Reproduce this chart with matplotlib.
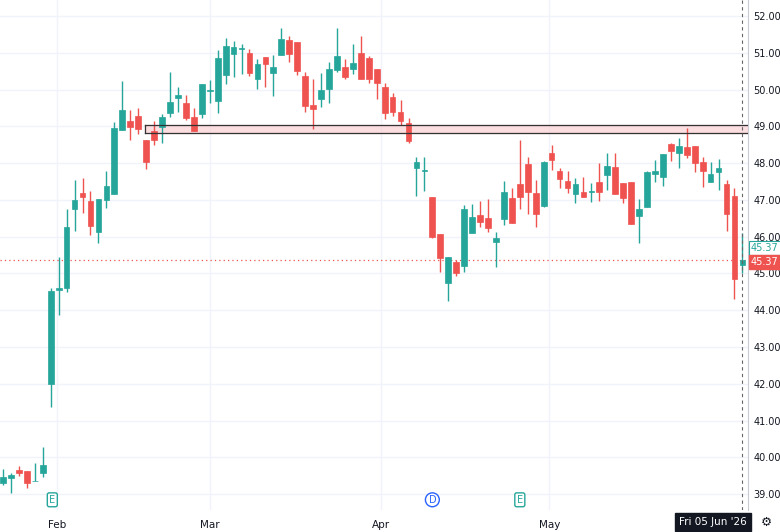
import matplotlib
matplotlib.use("Agg")
import matplotlib.pyplot as plt
import numpy as np

# --- daily OHLC, late Jan -> 05 Jun '26 ---
opens = [39.30, 39.45, 39.65, 39.62, 39.35, 39.57, 42.00, 44.55, 44.60, 46.75,
         47.19, 46.97, 46.13, 47.00, 47.16, 48.90, 49.14, 49.28, 48.63, 48.87,
         48.98, 49.36, 49.77, 49.63, 49.25, 49.33, 49.96, 49.69, 50.40, 50.97,
         51.10, 51.00, 50.29, 50.88, 50.45, 50.94, 51.35, 51.29, 50.37, 49.58,
         49.74, 50.01, 50.53, 50.61, 50.56, 51.00, 50.86, 50.56, 50.07, 49.80,
         49.39, 49.09, 47.87, 47.78, 47.08, 46.07, 44.74, 45.31, 45.20, 46.10,
         46.59, 46.51, 45.85, 46.48, 47.05, 47.43, 47.98, 47.19, 46.83, 48.27,
         47.78, 47.51, 47.16, 47.21, 47.21, 47.48, 47.68, 47.89, 47.46, 47.48,
         46.56, 46.80, 47.70, 47.62, 48.52, 48.27, 48.44, 48.46, 48.03, 47.48,
         47.76, 47.43, 47.10, 45.23]
closes = [39.46, 39.52, 39.57, 39.30, 39.35, 39.79, 44.52, 44.60, 46.26, 47.00,
          47.08, 46.29, 47.02, 47.38, 48.95, 49.44, 48.98, 48.92, 48.03, 48.63,
          49.25, 49.66, 49.85, 49.23, 48.87, 50.15, 49.97, 50.86, 51.18, 51.16,
          51.11, 50.45, 50.70, 50.70, 50.61, 51.37, 50.97, 50.50, 49.55, 49.47,
          49.99, 50.56, 50.91, 50.34, 50.72, 50.29, 50.29, 50.18, 49.36, 49.39,
          49.14, 48.60, 48.03, 47.78, 45.99, 45.42, 45.45, 45.01, 46.75, 46.53,
          46.40, 46.23, 45.96, 47.21, 46.37, 47.08, 47.21, 46.61, 48.03, 48.08,
          47.57, 47.32, 47.43, 47.08, 47.22, 47.21, 47.92, 47.16, 47.05, 46.34,
          46.75, 47.75, 47.78, 48.25, 48.33, 48.46, 48.22, 48.00, 47.78, 47.70,
          47.87, 46.61, 44.85, 45.37]
highs = [39.68, 39.57, 39.76, 39.62, 39.84, 40.28, 44.60, 45.45, 46.75, 47.54,
         47.59, 47.24, 47.02, 47.78, 49.12, 50.23, 49.44, 49.50, 48.63, 49.14,
         49.33, 50.48, 50.07, 49.85, 49.50, 50.15, 50.26, 51.08, 51.40, 51.32,
         51.24, 51.10, 50.83, 50.88, 50.94, 51.67, 51.46, 51.29, 50.48, 50.29,
         50.45, 50.75, 51.67, 50.83, 51.24, 51.46, 50.91, 50.56, 50.18, 49.91,
         49.72, 49.23, 48.17, 48.17, 47.08, 46.07, 45.45, 45.36, 46.86, 46.89,
         46.97, 47.02, 46.13, 47.51, 47.32, 48.63, 48.17, 47.54, 48.06, 48.49,
         47.87, 47.78, 47.59, 47.62, 47.46, 48.00, 48.27, 48.27, 47.46, 47.48,
         47.02, 47.78, 48.08, 48.25, 48.55, 48.68, 48.95, 48.46, 48.17, 48.03,
         48.11, 47.54, 47.32, 46.10]
lows = [39.25, 39.03, 39.50, 39.16, 39.35, 39.46, 41.37, 43.87, 44.50, 46.15,
        46.64, 46.04, 45.83, 46.78, 47.16, 48.90, 48.63, 48.79, 47.84, 48.49,
        48.55, 49.25, 49.39, 49.17, 48.87, 49.22, 49.63, 49.36, 50.15, 50.34,
        50.42, 50.37, 50.01, 50.07, 49.82, 50.94, 50.75, 50.40, 49.39, 48.93,
        49.52, 49.63, 50.48, 50.29, 50.42, 50.29, 50.18, 49.74, 49.20, 49.28,
        49.03, 48.55, 47.10, 47.24, 45.96, 45.04, 44.25, 44.93, 45.04, 46.10,
        46.26, 46.13, 45.17, 46.32, 46.37, 46.75, 46.61, 46.26, 46.81, 47.81,
        47.32, 47.19, 46.91, 47.08, 46.94, 46.97, 47.27, 47.16, 46.91, 46.34,
        45.83, 46.80, 47.48, 47.38, 48.06, 47.87, 48.14, 47.76, 47.35, 47.48,
        47.27, 46.15, 44.30, 45.01]
month_labels = ["Feb", "Mar", "Apr", "May"]
month_pos = [6.8, 26.0, 47.5, 68.7]
price_ticks = list(range(39, 53))
last_price = 45.37
zone_low, zone_high, zone_start = 48.82, 49.05, 17.9

GREEN = "#26a69a"
RED = "#ef5350"
GRID = "#f0f3fa"
TXT = "#131722"

fig = plt.figure(figsize=(7.8, 5.32), dpi=100)
ax = fig.add_axes([0, 22 / 532, 748 / 780, 510 / 532])

x = np.arange(len(opens))
o, c, h, l = map(np.array, (opens, closes, highs, lows))
up = c >= o
colors = np.where(up, GREEN, RED)

ax.vlines(x, l, h, colors=colors, linewidth=1, zorder=3)
bottom = np.minimum(o, c)
height = np.maximum(np.abs(c - o), 0.02)
ax.bar(x, height, bottom=bottom, width=0.72, color=colors, edgecolor=colors,
       linewidth=0.5, zorder=4)

ax.set_xlim(-0.38, 93.7)
ax.set_ylim(38.57, 52.435)

# grid
for p in price_ticks:
    ax.axhline(p, color=GRID, linewidth=1, zorder=0)
for m in month_pos:
    ax.axvline(m, color=GRID, linewidth=1, zorder=0)

# resistance zone
ax.fill_between([zone_start, 100], zone_low, zone_high, color="#f8c9cc", alpha=0.6, zorder=2)
ax.plot([zone_start, 100], [zone_high, zone_high], color="#333333", lw=0.9, zorder=5)
ax.plot([zone_start, 100], [zone_low, zone_low], color="#333333", lw=0.9, zorder=5)
ax.plot([zone_start, zone_start], [zone_low, zone_high], color="#333333", lw=0.9, zorder=5)

# last price line + crosshair
ax.axhline(last_price, color=RED, linestyle=(0, (1, 2.5)), linewidth=0.9, zorder=1)
ax.axvline(x[-1], color="#666666", linestyle=(0, (3, 3)), linewidth=0.8, zorder=6)

ax.yaxis.tick_right()
ax.set_yticks(price_ticks)
ax.set_yticklabels([f"{p:.2f}" for p in price_ticks])
ax.tick_params(axis="y", length=0, labelsize=7, labelcolor=TXT, pad=4)
ax.set_xticks(month_pos)
ax.set_xticklabels(month_labels)
ax.tick_params(axis="x", length=0, labelsize=7.5, labelcolor=TXT, pad=7)
for s in ["top", "left", "bottom"]:
    ax.spines[s].set_visible(False)
ax.spines["right"].set_color("#c8cbd3")

# price labels on axis
ax.text(1.004, 45.69, "45.37", transform=ax.get_yaxis_transform(), fontsize=7,
        color=GREEN, va="center", ha="left", zorder=10,
        bbox=dict(boxstyle="square,pad=0.2", fc="white", ec=GREEN, lw=0.8))
ax.text(1.004, 45.31, "45.37", transform=ax.get_yaxis_transform(), fontsize=7,
        color="white", va="center", ha="left", zorder=10,
        bbox=dict(boxstyle="square,pad=0.2", fc=RED, ec=RED))

# event markers
for xe, lab, col in [(6.2, "E", GREEN), (65.0, "E", GREEN), (54.0, "D", "#2962ff")]:
    style = "circle,pad=0.2" if lab == "D" else "round,pad=0.2"
    ax.text(xe, 0.02, lab, transform=ax.get_xaxis_transform(), fontsize=7,
            color=col, ha="center", va="center", zorder=10,
            bbox=dict(boxstyle=style, fc="white", ec=col, lw=1))

# crosshair date label and gear
fig.text(713 / 780, 10 / 532, "Fri 05 Jun '26", fontsize=7.5, color="white",
         ha="center", va="center",
         bbox=dict(boxstyle="square,pad=0.35", fc="#131722", ec="#131722"))
fig.text(766 / 780, 10 / 532, "\u2699", fontsize=9, color=TXT, ha="center", va="center")

fig.savefig("out.png", dpi=100)
